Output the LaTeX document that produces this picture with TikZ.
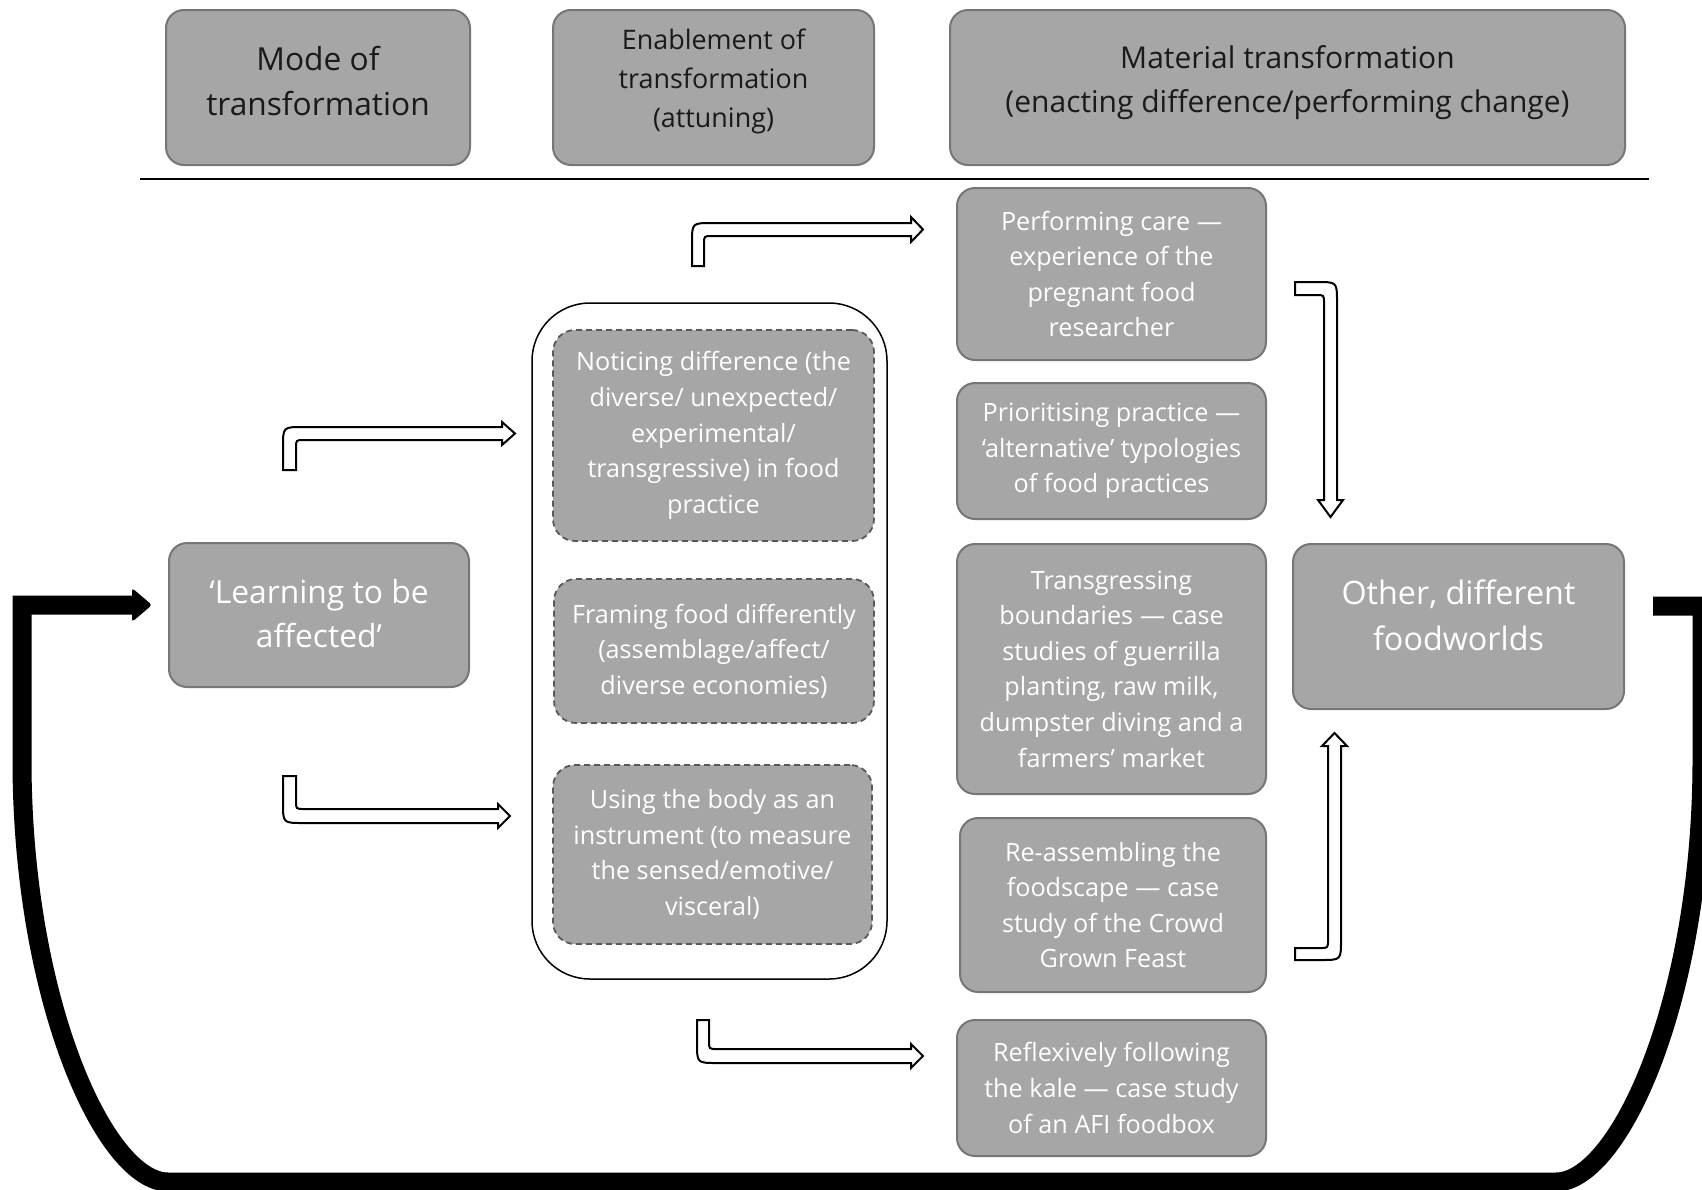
\documentclass[tikz,border=0pt]{standalone}
\usepackage{fontspec}
\setmainfont{Open Sans}
\definecolor{boxgray}{HTML}{A6A6A6}
\definecolor{edgegray}{HTML}{767676}
\definecolor{dashgray}{HTML}{595959}
\definecolor{headtext}{HTML}{1A1A1A}
\tikzset{
  headbox/.style={draw=edgegray, line width=2pt, fill=boxgray, rounded corners=18pt, inner sep=0pt},
  headtxt/.style={inner sep=0pt, align=center, text=headtext},
  bodybox/.style={draw=edgegray, line width=2pt, fill=boxgray, rounded corners=18pt, inner sep=0pt, align=center, text=white,
     font=\fontsize{25.2}{35.6}\selectfont},
  bodytxt/.style={inner sep=0pt, align=center, text=white},
  dashbox/.style={draw=dashgray, line width=1.8pt, dash pattern=on 6pt off 4pt, fill=boxgray, rounded corners=22pt, inner sep=0pt, align=center, text=white,
     font=\fontsize{25.2}{35.6}\selectfont},
  hollow/.style={draw=black, line width=2pt, fill=white, line join=miter},
  loopline/.style={draw=black, line width=19pt},
}
\begin{document}
\begin{tikzpicture}[x=1pt,y=-1pt]
\useasboundingbox (0,0) rectangle (1702,1189);
\clip (0,0) rectangle (1702,1189);
\fill[white] (0,0) rectangle (1702,1189);

% header
\node[headbox, minimum width=304pt, minimum height=155pt] (h1) at (318,87.5) {};
\node[headtxt, font=\fontsize{31.7}{45.6}\selectfont] (h1t) at ([yshift=6.5pt]h1.center) {Mode of\\transformation};
\node[headbox, minimum width=321pt, minimum height=155pt] (h2) at (713.5,87.5) {};
\node[headtxt, font=\fontsize{26.9}{39}\selectfont] (h2t) at ([yshift=6.5pt]h2.center) {Enablement of\\transformation\\(attuning)};
\node[headbox, minimum width=675pt, minimum height=155pt] (h3) at (1287.5,87.5) {};
\node[headtxt, font=\fontsize{30}{44.5}\selectfont] (h3t) at ([yshift=5pt]h3.center) {Material transformation\\(enacting difference/performing change)};
\coordinate (hlA) at (140,179);
\coordinate (hlB) at (1649,179);
\draw[line width=2pt] (hlA) -- (hlB);

% learning
\node[bodybox, minimum width=300pt, minimum height=144pt] (learn) at (319,615) {};
\node[bodytxt, font=\fontsize{31.8}{43.4}\selectfont] (learnt) at ([yshift=1.5pt]learn.center) {‘Learning to be\\affected’};

% container
\node[draw=black, line width=1.5pt, fill=white, rounded corners=58pt, minimum width=355pt, minimum height=676pt, inner sep=0pt] (cont) at (709.5,641) {};
\node[dashbox, minimum width=321pt, minimum height=211pt] (n1) at (713.5,435.5) {Noticing difference (the\\diverse/ unexpected/\\experimental/\\transgressive) in food\\practice};
\node[dashbox, minimum width=320pt, minimum height=144pt] (n2) at (714,651) {Framing food differently\\(assemblage/affect/\\diverse economies)};
\node[dashbox, minimum width=319pt, minimum height=179pt] (n3) at (712.5,854.5) {Using the body as an\\instrument (to measure\\the sensed/emotive/\\visceral)};

% right column
\node[bodybox, minimum width=309pt, minimum height=172pt] (r1) at (1111.5,274) {Performing care —\\experience of the\\pregnant food\\researcher};
\node[bodybox, minimum width=309pt, minimum height=136pt] (r2) at (1111.5,451) {Prioritising practice —\\‘alternative’ typologies\\of food practices};
\node[bodybox, minimum width=309pt, minimum height=250pt] (r3) at (1111.5,669) {Transgressing\\boundaries — case\\studies of guerrilla\\planting, raw milk,\\dumpster diving and a\\farmers’ market};
\node[bodybox, minimum width=306pt, minimum height=174pt] (r4) at (1113,905) {Re-assembling the\\foodscape — case\\study of the Crowd\\Grown Feast};
\node[bodybox, minimum width=309pt, minimum height=136pt] (r5) at (1111.5,1088) {Reflexively following\\the kale — case study\\of an AFI foodbox};
\node[bodybox, minimum width=331pt, minimum height=165pt] (other) at (1458.5,626.5) {};
\node[bodytxt, font=\fontsize{32.3}{45.6}\selectfont] (othert) at ([yshift=11pt]other.center) {Other, different\\foodworlds};

% hollow bent arrows
% top middle
\draw[hollow] (692,266) -- (692,243) .. controls (692,223) .. (712,223) -- (911,223) -- (911,217) -- (923,229.5) -- (911,242) -- (911,236) -- (712,236) .. controls (704,236) .. (704,244) -- (704,266) -- cycle;
% left upper
\draw[hollow] (283,470) -- (283,447) .. controls (283,427) .. (303,427) -- (502,427) -- (502,422) -- (515,433.5) -- (502,445) -- (502,440) -- (304,440) .. controls (296,440) .. (296,448) -- (296,470) -- cycle;
% left lower
\draw[hollow] (283,776) -- (296,776) -- (296,801) .. controls (296,809) .. (304,809) -- (498,809) -- (498,804) -- (510,816) -- (498,828) -- (498,823) -- (303,823) .. controls (283,823) .. (283,803) -- cycle;
% bottom middle
\draw[hollow] (697,1020) -- (709,1020) -- (709,1041) .. controls (709,1049) .. (717,1049) -- (911,1049) -- (911,1044) -- (923,1056) -- (911,1068) -- (911,1063) -- (717,1063) .. controls (697,1063) .. (697,1043) -- cycle;
% right down
\draw[hollow] (1295,282) -- (1317,282) .. controls (1337,282) .. (1337,302) -- (1337,500) -- (1343,500) -- (1330.5,517) -- (1318,500) -- (1324,500) -- (1324,303) .. controls (1324,295) .. (1316,295) -- (1295,295) -- cycle;
% right up
\draw[hollow] (1295,960) -- (1321,960) .. controls (1341,960) .. (1341,940) -- (1341,746) -- (1347,746) -- (1334.5,733) -- (1322,746) -- (1328,746) -- (1328,940) .. controls (1328,948) .. (1320,948) -- (1295,948) -- cycle;

% big feedback loop
\coordinate (lpStart) at (1653,606);
\coordinate (lpEnd) at (136,605);
\draw[loopline] (lpStart) -- (1702,606) -- (1702,760) .. controls (1702,1000) and (1619,1182) .. (1556,1182) -- (168,1182) .. controls (105,1182) and (22,1000) .. (22,760) -- (22,605) -- (lpEnd);
\fill[black, rounded corners=3pt] (132,588) -- (152,605) -- (132,622) -- cycle;
\end{tikzpicture}
\end{document}
